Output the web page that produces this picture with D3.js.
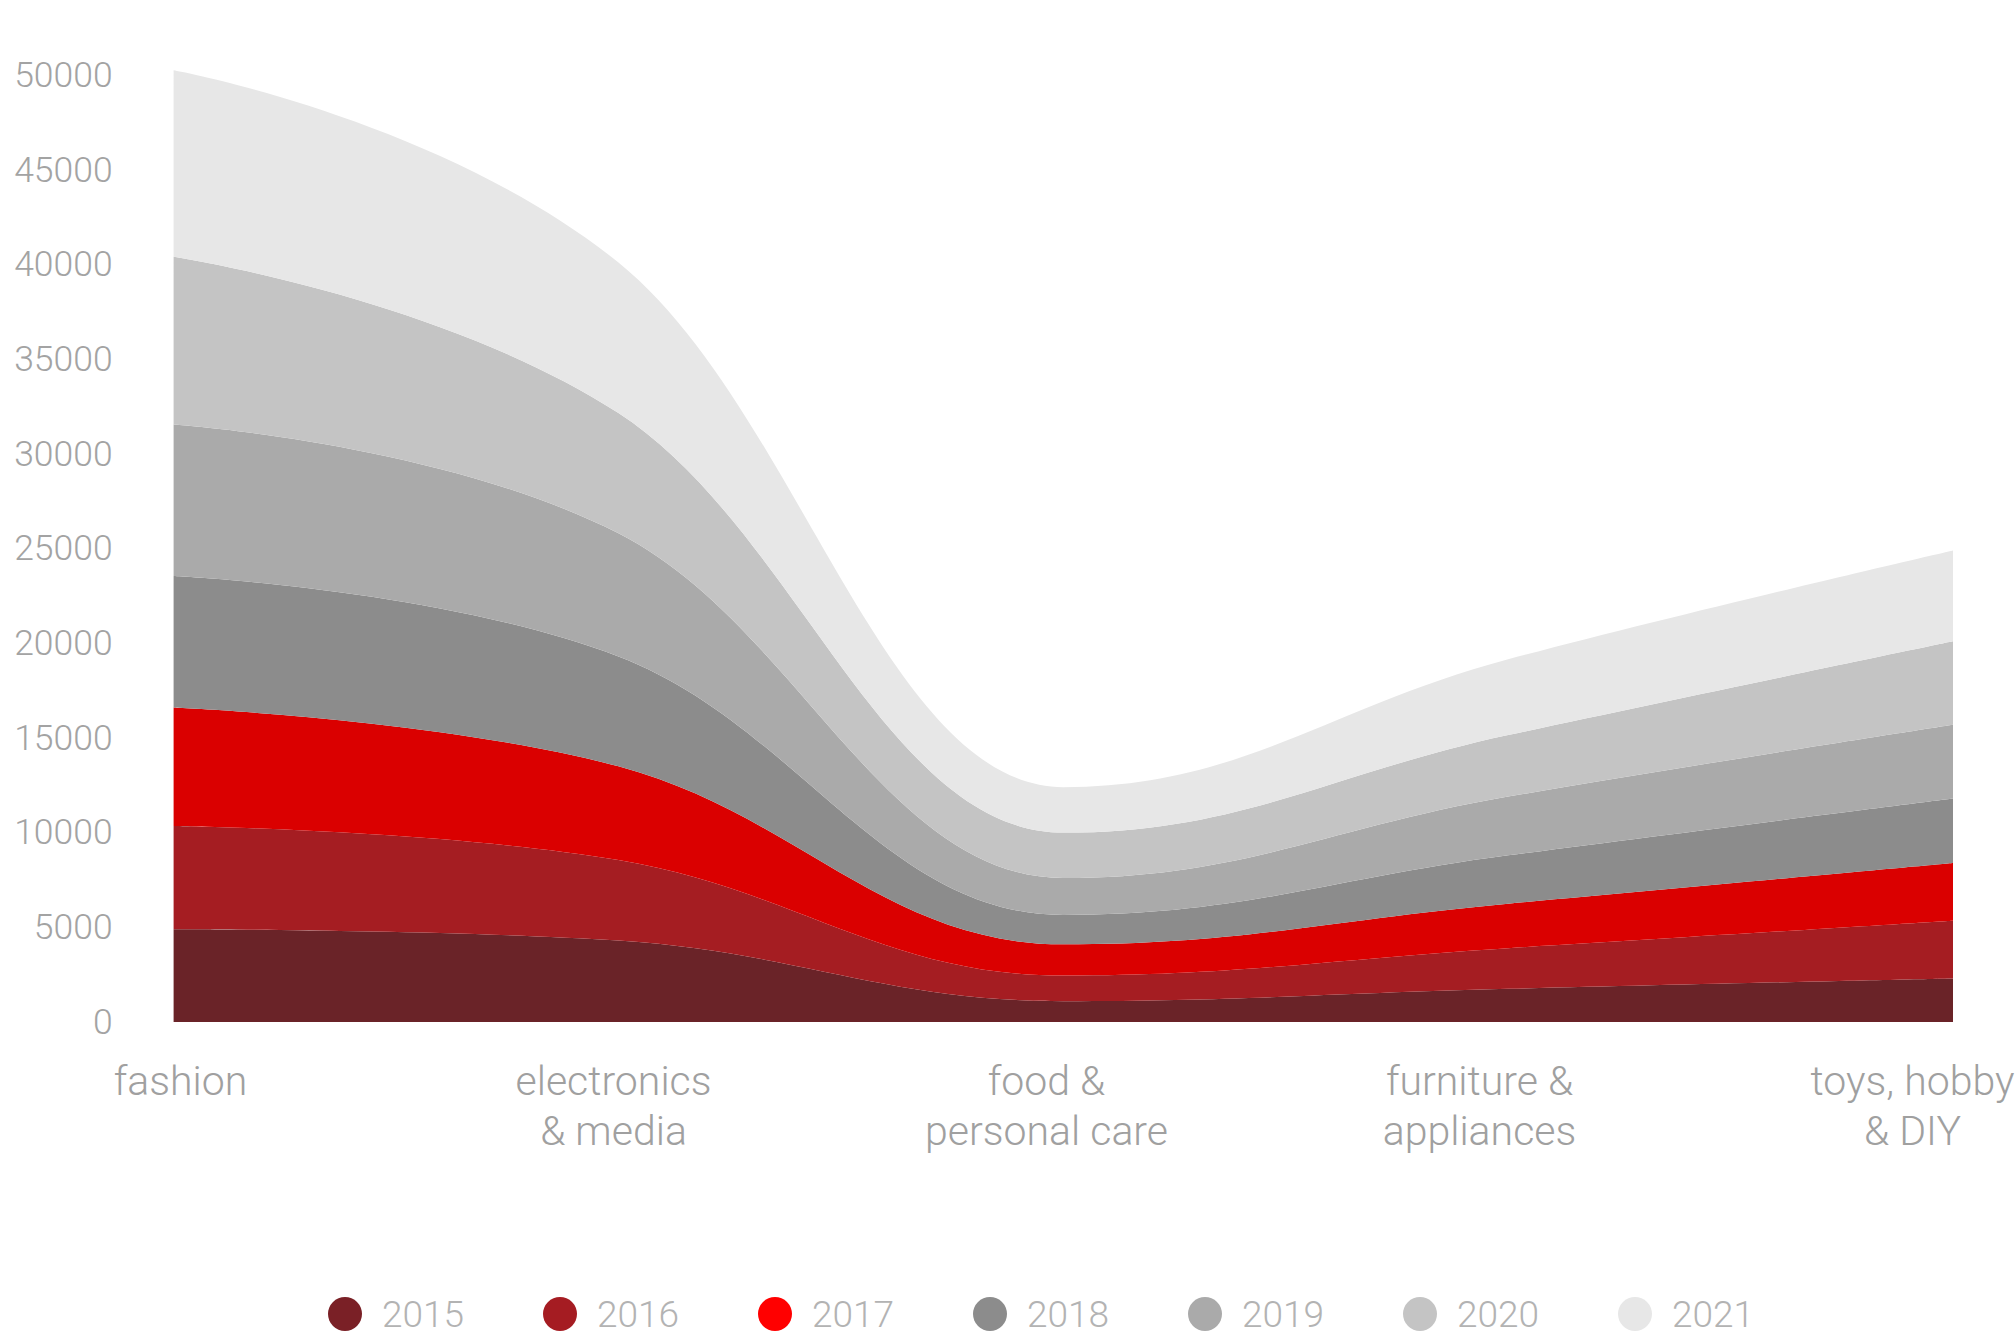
<!DOCTYPE html>
<html>
<head>
<meta charset="utf-8">
<script src="https://cdn.jsdelivr.net/npm/d3@7"></script>
<style>
  html, body { margin: 0; padding: 0; background: #ffffff; }
  svg { display: block; font-family: Roboto, "Open Sans", sans-serif; }
</style>
</head>
<body>
<svg id="chart" width="2016" height="1331"></svg>
<script>
// ---- data -------------------------------------------------------------
const categories = [
  "fashion",
  "electronics & media",
  "food & personal care",
  "furniture & appliances",
  "toys, hobby & DIY"
];
const categoryLines = [
  ["fashion"],
  ["electronics", "& media"],
  ["food &", "personal care"],
  ["furniture &", "appliances"],
  ["toys, hobby", "& DIY"]
];
const years = ["2015", "2016", "2017", "2018", "2019", "2020", "2021"];

const sales2015 = [4900, 4300, 1100, 1750, 2300];
const sales2016 = [5450, 4250, 1350, 2150, 3050];
const sales2017 = [6250, 4950, 1650, 2350, 3050];
const sales2018 = [6950, 5800, 1550, 2550, 3400];
const sales2019 = [8000, 6500, 1950, 3100, 3900];
const sales2020 = [8850, 6350, 2400, 3250, 4400];
const sales2021 = [9850, 7950, 2400, 4000, 4800];

const yTickValues = [0, 5000, 10000, 15000, 20000, 25000, 30000, 35000, 40000, 45000, 50000];

// ---- styling ----------------------------------------------------------
const areaColors   = ["#6a2328", "#a51d22", "#da0000", "#8c8c8c", "#aaaaaa", "#c4c4c4", "#e7e7e7"];
const legendColors = ["#7a2026", "#a51c22", "#ff0000", "#8c8c8c", "#aaaaaa", "#c4c4c4", "#e7e7e7"];

const W = 2016, H = 1331;
const plot = { left: 173.6, right: 1953, top: 75, bottom: 1022 };

const seriesByYear = [sales2015, sales2016, sales2017, sales2018, sales2019, sales2020, sales2021];
const rows = categories.map((c, i) => {
  const r = { category: c };
  years.forEach((y, k) => { r[y] = seriesByYear[k][i]; });
  return r;
});

// ---- smooth spline: control handles at 40% of the neighbour gap,
//      corrected so the handles stay collinear and never overshoot ----
function SmoothSpline(context) { this._context = context; }
SmoothSpline.prototype = {
  areaStart() { this._line = 0; },
  areaEnd() { this._line = NaN; },
  lineStart() { this._pts = []; },
  point(x, y) { this._pts.push([+x, +y]); },
  lineEnd() {
    const p = this._pts, n = p.length, ctx = this._context;
    if (n) {
      if (this._line) ctx.lineTo(p[0][0], p[0][1]); else ctx.moveTo(p[0][0], p[0][1]);
      const lc = [], rc = [];
      const s = 1.5, d = s + 1;
      for (let i = 0; i < n; i++) {
        const x = p[i][0], y = p[i][1];
        if (i === 0 || i === n - 1) { lc[i] = [x, y]; rc[i] = [x, y]; continue; }
        const lx = p[i - 1][0], ly = p[i - 1][1], nx = p[i + 1][0], ny = p[i + 1][1];
        const lcx = (s * x + lx) / d, rcx = (s * x + nx) / d;
        let lcy = (s * y + ly) / d, rcy = (s * y + ny) / d;
        if (rcx !== lcx) {
          const c = (rcy - lcy) * (rcx - x) / (rcx - lcx) + y - rcy;
          lcy += c; rcy += c;
        }
        if (lcy > ly && lcy > y) { lcy = Math.max(ly, y); rcy = 2 * y - lcy; }
        else if (lcy < ly && lcy < y) { lcy = Math.min(ly, y); rcy = 2 * y - lcy; }
        if (rcy > ny && rcy > y) { rcy = Math.max(ny, y); lcy = 2 * y - rcy; }
        else if (rcy < ny && rcy < y) { rcy = Math.min(ny, y); lcy = 2 * y - rcy; }
        lc[i] = [lcx, lcy]; rc[i] = [rcx, rcy];
      }
      for (let i = 1; i < n; i++) {
        ctx.bezierCurveTo(rc[i - 1][0], rc[i - 1][1], lc[i][0], lc[i][1], p[i][0], p[i][1]);
      }
    }
    if (this._line || (this._line !== 0 && n === 1)) ctx.closePath();
    this._line = 1 - this._line;
  }
};
const curveSmoothSpline = ctx => new SmoothSpline(ctx);

// ---- scales -----------------------------------------------------------
const x = d3.scalePoint().domain(categories).range([plot.left, plot.right]);
const xLabel = d3.scalePoint().domain(categories).range([180, 1912]);
const y = d3.scaleLinear().domain([0, 50000]).range([plot.bottom, plot.top]);
const color = d3.scaleOrdinal().domain(years).range(areaColors);
const legendColor = d3.scaleOrdinal().domain(years).range(legendColors);

const svg = d3.select("#chart");

// ---- stacked areas ----------------------------------------------------
const stacked = d3.stack().keys(years)(rows);
const area = d3.area()
  .x(d => x(d.data.category))
  .y0(d => y(d[0]))
  .y1(d => y(d[1]))
  .curve(curveSmoothSpline);

svg.append("g")
  .selectAll("path")
  .data(stacked)
  .join("path")
  .attr("d", area)
  .attr("fill", d => color(d.key));

// ---- y axis -----------------------------------------------------------
const yAxis = svg.append("g")
  .attr("transform", `translate(${plot.left},0)`)
  .call(d3.axisLeft(y).tickValues(yTickValues).tickSize(0).tickPadding(61).tickFormat(d3.format("d")));
yAxis.select(".domain").remove();
yAxis.selectAll("text")
  .attr("fill", "#a3a3a3")
  .attr("font-size", 35.5)
  .attr("font-weight", 300)
  .attr("font-family", "Roboto, sans-serif");

// ---- x axis (category labels, two lines) ------------------------------
const xAxis = svg.append("g")
  .attr("transform", `translate(0,${plot.bottom})`)
  .call(d3.axisBottom(xLabel).tickSize(0).tickFormat(""));
xAxis.select(".domain").remove();
xAxis.selectAll(".tick").each(function (d) {
  const lines = categoryLines[categories.indexOf(d)];
  const t = d3.select(this).select("text")
    .attr("y", 0)
    .attr("dy", null)
    .attr("fill", "#a0a0a0")
    .attr("font-size", 41)
    .attr("font-weight", 300)
    .attr("font-family", "Roboto, sans-serif")
    .attr("text-anchor", "middle");
  t.selectAll("tspan")
    .data(lines)
    .join("tspan")
    .attr("x", 0)
    .attr("y", (l, i) => 73 + i * 50)
    .text(l => l);
});

// ---- legend -----------------------------------------------------------
const legendX = d3.scalePoint().domain(years).range([345, 1635]);
const legend = svg.append("g").attr("transform", "translate(0,1314)");
const item = legend.selectAll("g")
  .data(years)
  .join("g")
  .attr("transform", d => `translate(${legendX(d)},0)`);
item.append("circle")
  .attr("r", 17)
  .attr("fill", d => legendColor(d));
item.append("text")
  .attr("x", 37)
  .attr("dy", "0.36em")
  .attr("fill", "#b3b3b3")
  .attr("font-size", 37)
  .attr("font-weight", 300)
  .attr("font-family", "Roboto, sans-serif")
  .text(d => d);
</script>
</body>
</html>
